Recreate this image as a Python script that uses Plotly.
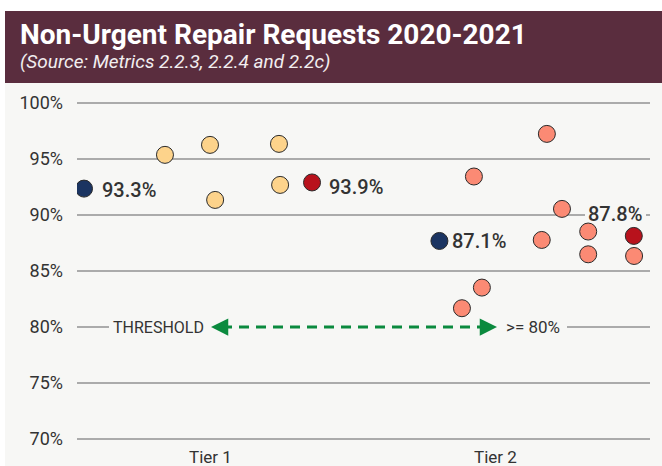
import plotly.graph_objects as go

# ---------------- data ----------------
categories = ["Tier 1", "Tier 2"]
cat_pos = [0, 1]

tier1_jitter = [-0.158, 0.0, 0.018, 0.242, 0.246]
tier1_values = [95.36, 96.25, 91.34, 96.34, 92.68]

tier2_jitter = [0.182, -0.074, 0.235, 0.164, 0.327, 0.327, 0.488, -0.116, -0.046]
tier2_values = [97.23, 93.43, 90.54, 87.77, 88.52, 86.49, 86.34, 81.68, 83.52]

# highlighted points per tier: (jitter, value, label)
navy_jitter = [-0.442, -0.195]
navy_values = [92.35, 87.68]
navy_labels = ["93.3%", "87.1%"]

red_jitter = [0.358, 0.487]
red_values = [92.9, 88.13]
red_labels = ["93.9%", "87.8%"]

threshold_value = 80
y_ticks = [70, 75, 80, 85, 90, 95, 100]
y_ticktext = ["70%", "75%", "80%", "85%", "90%", "95%", "100%"]

title = "Non-Urgent Repair Requests 2020-2021"
subtitle = "(Source: Metrics 2.2.3, 2.2.4 and 2.2c)"

# ---------------- styling ----------------
W, H = 662, 466
BG = "#f7f7f5"
HEADER = "#5a2d3e"
NAVY = "#1b3461"
YELLOW = "#fdd38b"
SALMON = "#fb8a74"
RED = "#b8121c"
GREEN = "#0b8a3e"
GRID = "#ababab"
TXT = "#333333"
FONT = "Roboto"

L, R = 77, 12
T = 95.0
PX_PER_UNIT_Y = 11.2
Y0, Y1 = 69.3, 100.7
PLOT_H = (Y1 - Y0) * PX_PER_UNIT_Y
B = H - T - PLOT_H
X_UNIT = 285.0
X0 = (L - 210) / X_UNIT
X1 = (W - R - 210) / X_UNIT
PLOT_W = W - L - R


def xp(px):
    return (px - L) / PLOT_W


def yp(py):
    return (H - B - py) / PLOT_H


def xd(px):
    return X0 + (px - L) / X_UNIT


fig = go.Figure()

mk_line = dict(color="#2a2a2a", width=1)

fig.add_trace(go.Scatter(
    x=[cat_pos[0] + j for j in tier1_jitter], y=tier1_values, mode="markers",
    marker=dict(size=17, color=YELLOW, line=mk_line), hoverinfo="y", showlegend=False))
fig.add_trace(go.Scatter(
    x=[cat_pos[1] + j for j in tier2_jitter], y=tier2_values, mode="markers",
    marker=dict(size=17, color=SALMON, line=mk_line), hoverinfo="y", showlegend=False))
fig.add_trace(go.Scatter(
    x=[cat_pos[i] + j for i, j in enumerate(navy_jitter)], y=navy_values, mode="markers",
    marker=dict(size=17, color=NAVY, line=mk_line), hoverinfo="y", showlegend=False))
fig.add_trace(go.Scatter(
    x=[cat_pos[i] + j for i, j in enumerate(red_jitter)], y=red_values, mode="markers",
    marker=dict(size=17, color=RED, line=mk_line), hoverinfo="y", showlegend=False))

shapes = []
annotations = []

# light background panel
shapes.append(dict(type="rect", xref="paper", yref="paper", x0=xp(5), x1=xp(W + 5),
                   y0=yp(83), y1=yp(H + 5), fillcolor=BG, line=dict(width=0), layer="below"))
# header
shapes.append(dict(type="rect", xref="paper", yref="paper", x0=xp(5), x1=xp(W + 5),
                   y0=yp(83), y1=yp(11), fillcolor=HEADER, line=dict(width=0), layer="above"))

# gaps in gridlines
shapes.append(dict(type="rect", xref="x", yref="y", x0=xd(109), x1=xd(567),
                   y0=threshold_value - 0.3, y1=threshold_value + 0.3,
                   fillcolor=BG, line=dict(width=0), layer="between"))
shapes.append(dict(type="rect", xref="x", yref="y", x0=xd(585), x1=xd(646),
                   y0=89.7, y1=90.3, fillcolor=BG, line=dict(width=0), layer="between"))

# dashed threshold line
shapes.append(dict(type="line", xref="x", yref="y", x0=xd(222), x1=xd(487),
                   y0=threshold_value, y1=threshold_value,
                   line=dict(color=GREEN, width=3, dash="10px,7px"), layer="above"))

annotations.append(dict(x=xd(211), y=threshold_value, xref="x", yref="y", text="",
                        showarrow=True, ax=14, ay=0, arrowhead=2, arrowsize=1.15,
                        arrowwidth=3, arrowcolor=GREEN))
annotations.append(dict(x=xd(497), y=threshold_value, xref="x", yref="y", text="",
                        showarrow=True, ax=-14, ay=0, arrowhead=2, arrowsize=1.15,
                        arrowwidth=3, arrowcolor=GREEN))

annotations.append(dict(x=xd(158), y=threshold_value, xref="x", yref="y", text="THRESHOLD",
                        showarrow=False, font=dict(family=FONT, size=16, color=TXT)))
annotations.append(dict(x=xd(533), y=threshold_value, xref="x", yref="y", text=">= 80%",
                        showarrow=False, font=dict(family=FONT, size=17, color=TXT)))

# point labels
lab_font = dict(family=FONT, size=20, color=TXT, weight=500)
annotations.append(dict(x=cat_pos[0] + navy_jitter[0], y=navy_values[0], text=navy_labels[0],
                        xanchor="left", xshift=16, yshift=-1, showarrow=False, font=lab_font))
annotations.append(dict(x=cat_pos[1] + navy_jitter[1], y=navy_values[1], text=navy_labels[1],
                        xanchor="left", xshift=11, yshift=0, showarrow=False, font=lab_font))
annotations.append(dict(x=cat_pos[0] + red_jitter[0], y=red_values[0], text=red_labels[0],
                        xanchor="left", xshift=15, yshift=-5, showarrow=False, font=lab_font))
annotations.append(dict(x=cat_pos[1] + red_jitter[1], y=red_values[1], text=red_labels[1],
                        xanchor="right", xshift=10, yshift=22, showarrow=False, font=lab_font))

# category labels (below the plot)
for pos, cat in zip(cat_pos, categories):
    annotations.append(dict(x=pos, y=0, xref="x", yref="paper", text=cat, xanchor="center",
                            yanchor="middle", yshift=-9.5, showarrow=False,
                            font=dict(family=FONT, size=17, color=TXT)))

# title & subtitle
annotations.append(dict(x=xp(18), y=yp(35), xref="paper", yref="paper", text="<b>" + title + "</b>",
                        xanchor="left", yanchor="middle", showarrow=False,
                        font=dict(family=FONT, size=28, color="white")))
annotations.append(dict(x=xp(18), y=yp(62), xref="paper", yref="paper", text="<i>" + subtitle + "</i>",
                        xanchor="left", yanchor="middle", showarrow=False,
                        font=dict(family=FONT, size=19, color="#f2eef0")))

fig.update_layout(
    width=W, height=H,
    margin=dict(l=L, r=R, t=T, b=B, pad=0, autoexpand=False),
    paper_bgcolor="white", plot_bgcolor=BG,
    shapes=shapes, annotations=annotations,
    font=dict(family=FONT, color=TXT),
    xaxis=dict(range=[X0, X1], showticklabels=False, showgrid=False,
               zeroline=False, showline=False, ticks="", automargin=False),
    yaxis=dict(range=[Y0, Y1], tickvals=y_ticks, ticktext=y_ticktext, showgrid=True,
               gridcolor=GRID, gridwidth=1.5, zeroline=False, showline=False, ticks="",
               automargin=False, ticklabelstandoff=13,
               tickfont=dict(family=FONT, size=18, color=TXT)),
    hovermode="closest",
)

fig.write_html(
    "out.html",
    config={"displayModeBar": False},
    post_script="document.body.style.margin='0px';document.body.style.overflow='hidden';",
)
